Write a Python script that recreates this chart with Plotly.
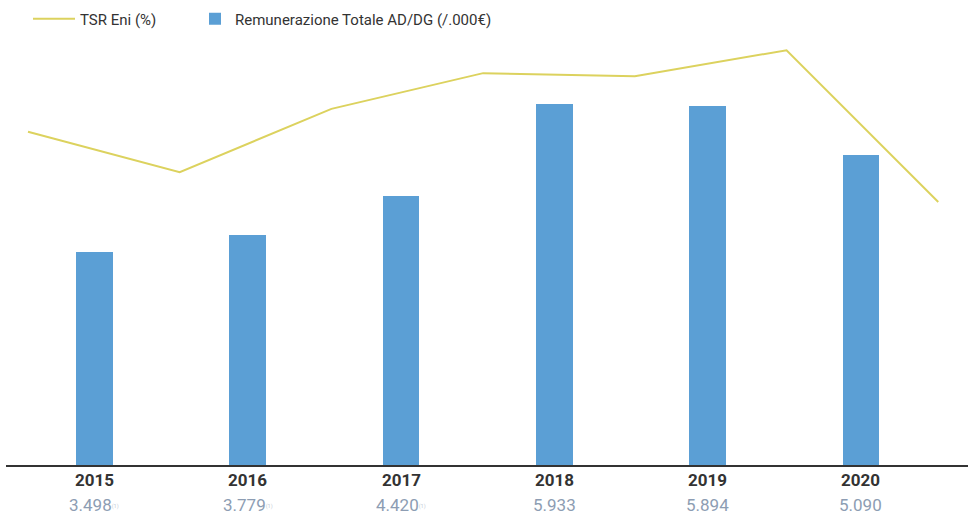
import plotly.graph_objects as go

# Remuneration of the CEO/GM (thousand euro) by year
years = ["2015", "2016", "2017", "2018", "2019", "2020"]
remuneration = [3498, 3779, 4420, 5933, 5894, 5090]
footnotes = ["(1)", "(1)", "(1)", "", "", ""]

# Eni total shareholder return, plotted on its own hidden scale
tsr_periods = ["2014", "2015", "2016", "2017", "2018", "2019", "2020"]
tsr_values = [78.4, 68.9, 83.8, 92.2, 91.5, 97.6, 61.9]

BAR_BLUE = "#5b9fd5"
TSR_YELLOW = "#dcd25e"
DARK = "#333333"
VALUE_GREY = "#8d9db3"

fig = go.Figure()

fig.add_trace(go.Scatter(
    x=tsr_periods,
    y=tsr_values,
    mode="lines",
    line=dict(color=TSR_YELLOW, width=2),
    name="TSR Eni (%)",
    xaxis="x2", yaxis="y2",
    legend="legend",
))

fig.add_trace(go.Bar(
    x=list(range(len(years))),
    y=remuneration,
    width=0.24,
    marker=dict(color=BAR_BLUE, line=dict(width=0)),
    name="Remunerazione Totale AD/DG (/.000€)",
    xaxis="x", yaxis="y",
    legend="legend2",
))

# Year labels and remuneration values under the axis
annotations = []
for i, (yr, val, fn) in enumerate(zip(years, remuneration, footnotes)):
    annotations.append(dict(
        x=i, y=-15.5 / 425, xref="x", yref="paper",
        text=f"<b>{yr}</b>", showarrow=False,
        font=dict(family="Roboto", size=17, color=DARK),
        xanchor="center", yanchor="middle",
    ))
    label = f"{val:,}".replace(",", ".")
    if fn:
        label += (f"<span style='font-size:8px;color:#c5ccd6'>"
                  f"<sup>{fn}</sup></span>")
    annotations.append(dict(
        x=i, y=-40 / 425, xref="x", yref="paper",
        text=label, showarrow=False,
        font=dict(family="Roboto", size=17, color=VALUE_GREY),
        xanchor="center", yanchor="middle",
    ))

legend_common = dict(
    orientation="h",
    xref="container", yref="container",
    y=1 - 19 / 516, xanchor="left", yanchor="middle",
    font=dict(family="Roboto", size=15, color=DARK),
    bgcolor="rgba(0,0,0,0)",
)

fig.update_layout(
    width=969, height=516,
    margin=dict(l=6, r=1, t=40, b=51),
    paper_bgcolor="white", plot_bgcolor="white",
    showlegend=True,
    legend=dict(legend_common, x=28 / 969, itemwidth=42),
    legend2=dict(legend_common, x=195 / 969, itemwidth=30),
    xaxis=dict(
        range=[-0.577, 5.698], showgrid=False, zeroline=False,
        showticklabels=False, ticks="",
        showline=True, linecolor=DARK, linewidth=1.5,
    ),
    xaxis2=dict(
        type="category", overlaying="x", range=[-0.145, 6.196],
        visible=False,
    ),
    yaxis=dict(
        range=[0, 6985], showgrid=False, zeroline=False,
        showticklabels=False, ticks="",
    ),
    yaxis2=dict(
        range=[0, 100], overlaying="y", visible=False,
    ),
    annotations=annotations,
    bargap=0,
)

fig.write_html("out.html")
